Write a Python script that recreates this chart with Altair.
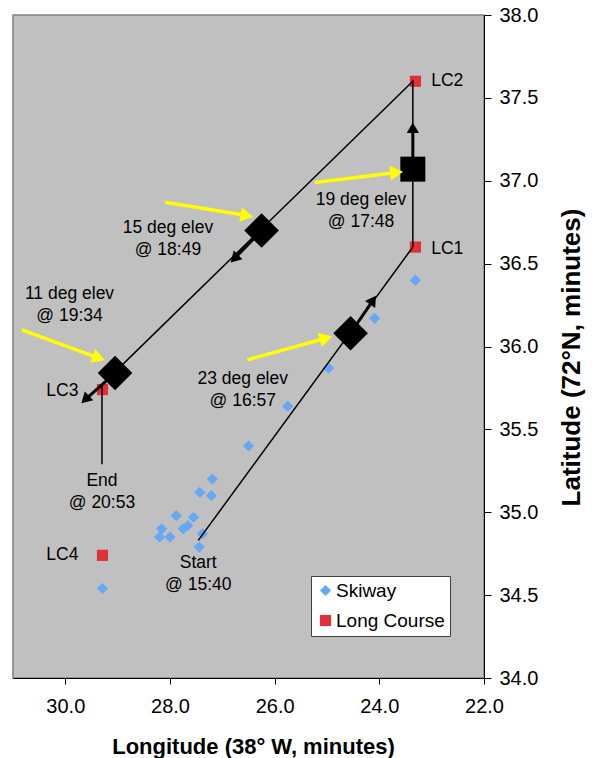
import altair as alt
import pandas as pd

FONT = "Liberation Sans"
BLUE = "#66A8F4"
RED = "#E0303A"
YELLOW = "#FFFF00"
BG = "#C0C0C0"

# ---- data -------------------------------------------------------------
x_ticks = [22.0, 24.0, 26.0, 28.0, 30.0]
y_ticks = [34.0, 34.5, 35.0, 35.5, 36.0, 36.5, 37.0, 37.5, 38.0]

series_names = ["Skiway", "Long Course"]

skiway_lon = [23.31, 24.09, 24.97, 25.75, 26.50, 27.19, 27.43, 27.21, 27.88,
              27.55, 28.16, 28.20, 28.00, 27.75, 27.66, 27.38, 27.44, 29.29]
skiway_lat = [36.40, 36.17, 35.87, 35.64, 35.40, 35.20, 35.12, 35.10, 34.98,
              34.97, 34.90, 34.85, 34.85, 34.90, 34.92, 34.87, 34.79, 34.54]

lc_names = ["LC1", "LC2", "LC3", "LC4"]
lc_lon = [23.31, 23.31, 29.29, 29.29]
lc_lat = [36.60, 37.60, 35.74, 34.74]

# flight track: Start -> LC1 -> LC2 -> LC3 -> End
track_lon = [27.46, 23.36, 23.36, 29.30, 29.30]
track_lat = [34.83, 36.60, 37.60, 35.77, 35.29]

# elevation-scan positions (big black markers)
elev_diamond_lon = [24.55, 26.25, 29.05]
elev_diamond_lat = [36.08, 36.70, 35.84]
elev_square_lon = [23.36]
elev_square_lat = [37.07]

# black direction arrows (from, to, heading in degrees)
barrow_lon0 = [24.55, 23.36, 26.25, 29.05]
barrow_lat0 = [36.08, 37.07, 36.70, 35.84]
barrow_lon1 = [24.12, 23.36, 26.77, 29.62]
barrow_lat1 = [36.28, 37.32, 36.53, 35.68]
barrow_angle = [34, 0, 225, 226]

# yellow pointer arrows
yarrow_lon0 = [30.83, 28.09, 25.23, 26.52]
yarrow_lat0 = [36.10, 36.87, 36.99, 35.92]
yarrow_lon1 = [29.36, 26.53, 23.67, 25.02]
yarrow_lat1 = [35.93, 36.79, 37.05, 36.05]
yarrow_angle = [110, 100, 84, 74]

# annotations
ann_text = ["23 deg elev\n@ 16:57", "19 deg elev\n@ 17:48", "15 deg elev\n@ 18:49",
            "11 deg elev\n@ 19:34", "Start\n@ 15:40", "End\n@ 20:53"]
ann_lon = [26.61, 24.35, 28.04, 29.92, 27.46, 29.30]
ann_lat = [35.74, 36.82, 36.65, 36.25, 34.63, 35.12]

lc_label_right_lon = [23.01, 23.01]
lc_label_right_lat = [36.59, 37.60]
lc_label_right_text = ["LC1", "LC2"]
lc_label_left_lon = [29.75, 29.75]
lc_label_left_lat = [35.73, 34.74]
lc_label_left_text = ["LC3", "LC4"]

# ---- tables -----------------------------------------------------------
pts = pd.DataFrame({
    "lon": skiway_lon + lc_lon,
    "lat": skiway_lat + lc_lat,
    "series": ["Skiway"] * len(skiway_lon) + ["Long Course"] * len(lc_lon),
})
track = pd.DataFrame({"lon": track_lon, "lat": track_lat, "o": list(range(len(track_lon)))})
ediam = pd.DataFrame({"lon": elev_diamond_lon, "lat": elev_diamond_lat})
esq = pd.DataFrame({"lon": elev_square_lon, "lat": elev_square_lat})
barrows = pd.DataFrame({"lon": barrow_lon0, "lat": barrow_lat0, "lon2": barrow_lon1,
                        "lat2": barrow_lat1, "ang": barrow_angle})
yarrows = pd.DataFrame({"lon": yarrow_lon0, "lat": yarrow_lat0, "lon2": yarrow_lon1,
                        "lat2": yarrow_lat1, "ang": yarrow_angle})
ann = pd.DataFrame({"lon": ann_lon, "lat": ann_lat, "t": ann_text})
lcr = pd.DataFrame({"lon": lc_label_right_lon, "lat": lc_label_right_lat, "t": lc_label_right_text})
lcl = pd.DataFrame({"lon": lc_label_left_lon, "lat": lc_label_left_lat, "t": lc_label_left_text})

# ---- encodings --------------------------------------------------------
xs = alt.Scale(domain=[22, 31], reverse=True, nice=False, zero=False)
ys = alt.Scale(domain=[34, 38], nice=False, zero=False)
xax = alt.Axis(title="Longitude (38° W, minutes)", values=x_ticks, format=".1f",
               orient="bottom", grid=False, tickSize=6, labelPadding=12,
               labelFlush=False, labelOverlap=False,
               titlePadding=20, titleFontSize=22, titleX=240)
yax = alt.Axis(title="Latitude (72°N, minutes)", values=y_ticks, format=".1f",
               orient="right", grid=False, tickSize=7, labelPadding=8,
               labelFlush=False, labelOverlap=False,
               titlePadding=21, titleFontSize=26, titleAngle=270,
               titleBaseline="top", titleY=342)
X = alt.X("lon:Q", scale=xs, axis=xax)
Y = alt.Y("lat:Q", scale=ys, axis=yax)

leg = alt.Legend(title=None, orient="none", legendX=298, legendY=561,
                 fillColor="white", strokeColor="#404040", padding=5,
                 rowPadding=10, symbolSize=125, labelFont=FONT, labelFontSize=19,
                 labelColor="black", labelOffset=1, symbolStrokeWidth=0,
                 symbolOpacity=1)

base_pts = alt.Chart(pts).mark_point(filled=True, size=125, opacity=1).encode(
    x=X, y=Y,
    color=alt.Color("series:N", scale=alt.Scale(domain=series_names, range=[BLUE, RED]), legend=leg),
    shape=alt.Shape("series:N", scale=alt.Scale(domain=series_names, range=["diamond", "square"]), legend=leg),
)

track_line = alt.Chart(track).mark_line(color="black", strokeWidth=1.5).encode(
    x=X, y=Y, order="o:Q")

big_diam = alt.Chart(ediam).mark_point(shape="diamond", filled=True, size=1200,
                                       color="black", opacity=1).encode(x=X, y=Y)
big_sq = alt.Chart(esq).mark_point(shape="square", filled=True, size=625,
                                   color="black", opacity=1).encode(x=X, y=Y)

b_shaft = alt.Chart(barrows).mark_rule(color="black", strokeWidth=3).encode(
    x=X, y=Y, x2="lon2:Q", y2="lat2:Q")
b_head = alt.Chart(barrows).mark_point(shape="triangle-up", filled=True, size=150,
                                       color="black", opacity=1).encode(
    x=alt.X("lon2:Q", scale=xs, axis=xax), y=alt.Y("lat2:Q", scale=ys, axis=yax),
    angle=alt.Angle("ang:Q", scale=None))

y_shaft = alt.Chart(yarrows).mark_rule(color=YELLOW, strokeWidth=3.5).encode(
    x=X, y=Y, x2="lon2:Q", y2="lat2:Q")
y_head = alt.Chart(yarrows).mark_point(shape="triangle-up", filled=True, size=220,
                                       color=YELLOW, opacity=1).encode(
    x=alt.X("lon2:Q", scale=xs, axis=xax), y=alt.Y("lat2:Q", scale=ys, axis=yax),
    angle=alt.Angle("ang:Q", scale=None))

ann_layer = alt.Chart(ann).mark_text(font=FONT, fontSize=17.5, color="black",
                                     align="center", baseline="middle", dy=-11,
                                     lineBreak="\n", lineHeight=22).encode(
    x=X, y=Y, text="t:N")
lcr_layer = alt.Chart(lcr).mark_text(font=FONT, fontSize=17.5, color="black",
                                     align="left", baseline="middle").encode(
    x=X, y=Y, text="t:N")
lcl_layer = alt.Chart(lcl).mark_text(font=FONT, fontSize=17.5, color="black",
                                     align="right", baseline="middle").encode(
    x=X, y=Y, text="t:N")

chart = alt.layer(
    base_pts, track_line, big_diam, big_sq, b_shaft, b_head, y_shaft, y_head,
    ann_layer, lcr_layer, lcl_layer,
).properties(
    width=471, height=663,
    autosize=alt.AutoSizeParams(type="none"),
    padding={"left": 5, "top": 7, "right": 102, "bottom": 85},
).configure_view(
    fill=BG, stroke="#808080", strokeWidth=1.5,
).configure_axis(
    labelFont=FONT, titleFont=FONT, labelFontSize=20, titleFontWeight="bold",
    domainColor="black", tickColor="black", labelColor="black", titleColor="black",
    domainWidth=1, tickWidth=1,
)

chart.save("out.html", embed_options={"renderer": "svg", "actions": False})
